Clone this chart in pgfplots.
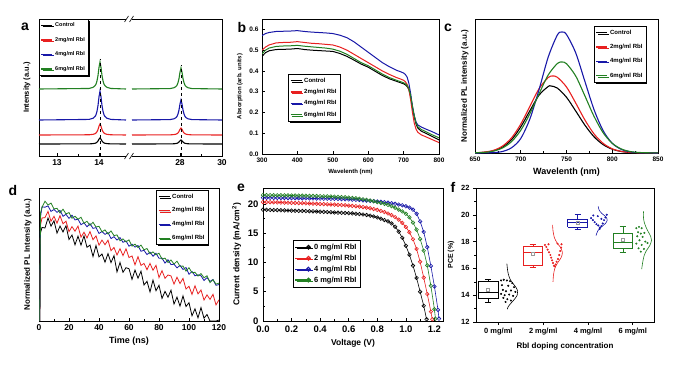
\documentclass[border=0pt]{standalone}
\usepackage{fontspec}
\setmainfont{Liberation Sans}
\usepackage{pgfplots}
\pgfplotsset{compat=1.18}
\usetikzlibrary{shadows}
\definecolor{cR}{RGB}{232,32,32}
\definecolor{cB}{RGB}{24,24,168}
\definecolor{cG}{RGB}{34,128,34}
\newcommand\fs[1]{\fontsize{#1}{#1}\selectfont\bfseries}
\pgfplotsset{
 panel/.style={scale only axis, anchor=south west, axis line style={line width=0.8pt},
   /pgf/number format/assume math mode=true, tick style={black, line width=0.6pt},
   major tick length=3pt, minor tick length=1.8pt, xtick pos=bottom, ytick pos=left,
   tick align=inside, clip mode=individual, legend cell align=left},
 shleg/.style={draw=black, line width=0.6pt, fill=white, inner sep=1.5pt,
   drop shadow={shadow xshift=1.4pt, shadow yshift=-1.4pt, fill=black, opacity=1}},
}
\begin{document}
\begin{tikzpicture}
\path[use as bounding box] (0,0) rectangle (681pt,365pt);
% ---------------- panel a
\begin{axis}[panel, at={(39pt,209pt)}, width=183pt, height=137pt,
  xmin=0, xmax=183, ymin=0, ymax=137,
  xtick={18,60,141,183}, xticklabels={13,14,28,30}, minor xtick={39,162},
  ytick=\empty, ticklabel style={font=\fs{8.5}},
  ylabel={Intensity (a.u.)}, ylabel style={font=\fs{7.5}}, ylabel shift=5pt,
  legend style={shleg, at={(0,1)}, anchor=north west, font=\fs{5.5}, row sep=5pt},
  legend image code/.code={\draw[#1, line width=1.4pt] (0pt,0pt) -- (11pt,0pt);},
  every axis plot/.append style={line width=1.1pt},
  after end axis/.code={
    \fill[white] (axis cs:87,-2) rectangle (axis cs:93,2);
    \fill[white] (axis cs:87,135) rectangle (axis cs:93,139);
    \draw[line width=0.6pt] (axis cs:85.5,-3) -- (axis cs:89.5,3);
    \draw[line width=0.6pt] (axis cs:90.5,-3) -- (axis cs:94.5,3);
    \draw[line width=0.6pt] (axis cs:85.5,134) -- (axis cs:89.5,140);
    \draw[line width=0.6pt] (axis cs:90.5,134) -- (axis cs:94.5,140);
  }]
\addplot[black] coordinates {(0,12) (50,12.12) (54,12.36) (56,12.72) (57,13.08) (58,13.8) (59,15) (60,16.8) (61,18) (62,16.8) (63,15) (64,13.8) (65,13.08) (66,12.72) (68,12.36) (72,12.12) (87,12)};
\addlegendentry{Control}
\addplot[cR] coordinates {(0,21) (50,21.22) (54,21.66) (56,22.32) (57,22.98) (58,24.3) (59,26.5) (60,29.8) (61,32) (62,29.8) (63,26.5) (64,24.3) (65,22.98) (66,22.32) (68,21.66) (72,21.22) (87,21)};
\addlegendentry{2mg/ml RbI}
\addplot[cB] coordinates {(0,36) (50,36.58) (54,37.74) (56,39.48) (57,41.22) (58,44.7) (59,50.5) (60,59.2) (61,65) (62,59.2) (63,50.5) (64,44.7) (65,41.22) (66,39.48) (68,37.74) (72,36.58) (87,36)};
\addlegendentry{4mg/ml RbI}
\addplot[cG] coordinates {(0,67) (50,67.54) (54,68.62) (56,70.24) (57,71.86) (58,75.1) (59,80.5) (60,88.6) (61,94) (62,88.6) (63,80.5) (64,75.1) (65,71.86) (66,70.24) (68,68.62) (72,67.54) (87,67)};
\addlegendentry{6mg/ml RbI}
\addplot[black, forget plot] coordinates {(93,12) (131,12.08) (135,12.24) (137,12.48) (138,12.72) (139,13.2) (140,14) (141,15.2) (142,16) (143,15.2) (144,14) (145,13.2) (146,12.72) (147,12.48) (149,12.24) (153,12.08) (183,12)};
\addplot[cR, forget plot] coordinates {(93,21) (131,21.14) (135,21.42) (137,21.84) (138,22.26) (139,23.1) (140,24.5) (141,26.6) (142,28) (143,26.6) (144,24.5) (145,23.1) (146,22.26) (147,21.84) (149,21.42) (153,21.14) (183,21)};
\addplot[cB, forget plot] coordinates {(93,36) (131,36.4) (135,37.2) (137,38.4) (138,39.6) (139,42) (140,46) (141,52) (142,56) (143,52) (144,46) (145,42) (146,39.6) (147,38.4) (149,37.2) (153,36.4) (183,36)};
\addplot[cG, forget plot] coordinates {(93,67) (131,67.42) (135,68.26) (137,69.52) (138,70.78) (139,73.3) (140,77.5) (141,83.8) (142,88) (143,83.8) (144,77.5) (145,73.3) (146,70.78) (147,69.52) (149,68.26) (153,67.42) (183,67)};
\addplot[black, dashed, line width=0.6pt, forget plot] coordinates {(61,0) (61,97)};
\addplot[black, dashed, line width=0.6pt, forget plot] coordinates {(142,0) (142,91)};
\end{axis}
% ---------------- panel b
\begin{axis}[panel, at={(262pt,211pt)}, width=177pt, height=135pt,
  xmin=300, xmax=800, ymin=0, ymax=0.65,
  xtick={300,400,500,600,700,800}, ytick={0,0.1,0.2,0.3,0.4,0.5,0.6},
  yticklabel style={/pgf/number format/.cd, fixed, fixed zerofill, precision=1},
  ticklabel style={font=\fs{6.5}},
  xlabel={Wavelenth (nm)}, ylabel={Absorption (arb. units)}, label style={font=\fs{6}},
  legend style={shleg, at={(0.147,0.593)}, anchor=north west, font=\fs{6}, row sep=1.5pt},
  legend image code/.code={\draw[#1, line width=1.4pt] (0pt,0pt) -- (11pt,0pt);},
  every axis plot/.append style={line width=1.0pt}]
\addplot[black] coordinates {(300,0.470) (310,0.488) (320,0.497) (340,0.503) (360,0.504) (380,0.505) (400,0.508) (420,0.503) (440,0.500) (460,0.498) (480,0.496) (500,0.494) (520,0.484) (540,0.470) (560,0.452) (580,0.433) (600,0.418) (620,0.398) (640,0.378) (660,0.362) (680,0.350) (690,0.344) (700,0.338) (705,0.333) (710,0.325) (715,0.310) (720,0.275) (725,0.225) (730,0.180) (735,0.145) (740,0.125) (750,0.110) (760,0.102) (780,0.085) (800,0.068)};
\addlegendentry{Control}
\addplot[cR] coordinates {(300,0.500) (310,0.515) (320,0.525) (340,0.535) (360,0.537) (380,0.538) (400,0.541) (420,0.537) (440,0.533) (460,0.531) (480,0.528) (500,0.525) (520,0.515) (540,0.500) (560,0.480) (580,0.460) (600,0.440) (620,0.420) (640,0.400) (660,0.383) (680,0.368) (690,0.362) (700,0.355) (705,0.348) (710,0.335) (715,0.310) (720,0.260) (725,0.200) (730,0.150) (735,0.120) (740,0.105) (750,0.092) (760,0.085) (780,0.070) (800,0.055)};
\addlegendentry{2mg/ml RbI}
\addplot[cB] coordinates {(300,0.570) (310,0.580) (320,0.585) (340,0.590) (360,0.591) (380,0.592) (400,0.594) (420,0.590) (440,0.587) (460,0.585) (480,0.583) (500,0.580) (520,0.572) (540,0.560) (560,0.540) (580,0.515) (600,0.490) (620,0.465) (640,0.440) (660,0.420) (680,0.403) (690,0.397) (700,0.390) (705,0.383) (710,0.370) (715,0.340) (720,0.290) (725,0.230) (730,0.185) (735,0.155) (740,0.140) (750,0.130) (760,0.122) (780,0.108) (800,0.092)};
\addlegendentry{4mg/ml RbI}
\addplot[cG] coordinates {(300,0.482) (310,0.500) (320,0.510) (340,0.518) (360,0.520) (380,0.521) (400,0.523) (420,0.519) (440,0.516) (460,0.513) (480,0.510) (500,0.505) (520,0.495) (540,0.480) (560,0.460) (580,0.440) (600,0.425) (620,0.405) (640,0.385) (660,0.368) (680,0.355) (690,0.349) (700,0.343) (705,0.338) (710,0.330) (715,0.315) (720,0.280) (725,0.230) (730,0.185) (735,0.150) (740,0.132) (750,0.118) (760,0.110) (780,0.093) (800,0.078)};
\addlegendentry{6mg/ml RbI}
\end{axis}
% ---------------- panel c
\begin{axis}[panel, at={(475pt,212pt)}, width=183pt, height=134pt,
  xmin=650, xmax=850, ymin=0, ymax=134,
  xtick={650,700,750,800,850}, minor x tick num=1, ytick=\empty,
  ticklabel style={font=\fs{6.5}},
  xlabel={Wavelenth (nm)}, xlabel style={font=\fs{9}},
  ylabel={Normalized PL intensity (a.u.)}, ylabel style={font=\fs{8}}, ylabel shift=3pt,
  legend style={shleg, at={(0.65,0.948)}, anchor=north west, font=\fs{6}, row sep=4.5pt},
  legend image code/.code={\draw[#1, line width=1.4pt] (0pt,0pt) -- (11pt,0pt);},
  every axis plot/.append style={line width=1.1pt, smooth}]
\addplot[black] coordinates {(650,0.2) (660,0.7) (670,2.1) (680,5.9) (690,13.4) (700,26.1) (710,42.3) (720,57.9) (730,66.5) (733,67) (740,64.9) (750,55.7) (760,42.1) (770,28) (780,16.3) (790,8.4) (800,3.8) (810,1.5) (820,0.5) (830,0.2) (840,0.1) (850,0)};
\addlegendentry{Control}
\addplot[cR] coordinates {(650,0.2) (660,0.9) (670,2.6) (680,6.9) (690,15.2) (700,28.9) (710,46.7) (720,64.3) (730,75.5) (735,77) (740,75.7) (750,66) (760,50.1) (770,33.2) (780,19.2) (790,9.7) (800,4.2) (810,1.6) (820,0.6) (830,0.2) (840,0.1) (850,0)};
\addlegendentry{2mg/ml RbI}
\addplot[cB] coordinates {(650,0) (660,0.1) (670,0.4) (680,1.5) (690,5.3) (700,14.5) (710,34.1) (720,63.4) (730,95.9) (740,118) (745,121) (750,118.5) (760,100.3) (770,71.9) (780,43.6) (790,22.4) (800,9.7) (810,3.6) (820,1.1) (830,0.3) (840,0.1) (850,0)};
\addlegendentry{4mg/ml RbI}
\addplot[cG] coordinates {(650,0.2) (660,0.6) (670,1.9) (680,5.0) (690,11.4) (700,22.7) (710,39.3) (720,59.2) (730,78) (740,89.5) (745,91) (750,89.3) (760,77.1) (770,57.3) (780,36.8) (790,20.3) (800,9.7) (810,4.0) (820,1.4) (830,0.5) (840,0.2) (850,0.1)};
\addlegendentry{6mg/ml RbI}
\end{axis}
% ---------------- panel d
\begin{axis}[panel, at={(39pt,44pt)}, width=180pt, height=133pt,
  xmin=0, xmax=120, ymin=0, ymax=133,
  xtick={0,20,40,60,80,100,120}, minor x tick num=1, ytick=\empty,
  ticklabel style={font=\fs{8.5}},
  xlabel={Time (ns)}, xlabel style={font=\fs{9}},
  ylabel={Normalized PL Intensity (a.u.)}, ylabel style={font=\fs{8}}, ylabel shift=4pt,
  legend style={shleg, at={(0.65,0.985)}, anchor=north west, font=\fs{6}, row sep=4pt},
  legend image code/.code={\draw[#1, line width=1.4pt] (0pt,0pt) -- (11pt,0pt);},
  every axis plot/.append style={line width=0.8pt}]
\addplot[black] coordinates {(0.5,0) (1,88) (2,93.6) (4,93.0) (6,103) (8,94.8) (10,100.2) (12,87.9) (14,94.9) (16,89.1) (18,95.3) (20,81.5) (22,86.0) (24,76.2) (26,84.8) (28,75.8) (30,85.2) (32,73.7) (34,75.9) (36,64.5) (38,75.5) (40,64.1) (42,67.0) (44,58.8) (46,67.4) (48,58.4) (50,65.4) (52,49.1) (54,58.5) (56,48.7) (58,53.3) (60,52.3) (62,41.6) (64,51.0) (66,42.8) (68,49.8) (70,36.0) (72,39.7) (74,29.1) (76,40.9) (78,30.3) (80,35.7) (82,22.6) (84,29.6) (86,23.8) (88,30.8) (90,17.0) (92,23.9) (94,14.9) (96,25.1) (98,14.5) (100,18.3) (102,5.2) (104,12.2) (106,3.2) (108,13.4) (110,2.8) (112,6.5) (114,0) (116,0) (118,0) (120,0.9)};
\addlegendentry{Control}
\addplot[cR] coordinates {(0.5,0) (1,96) (2,103) (4,103.4) (6,109.6) (8,99.7) (10,104.7) (12,97.8) (14,105.3) (16,97.2) (18,99.8) (20,89.3) (22,94.4) (24,89.8) (26,94.9) (28,83.8) (30,88.8) (32,83.1) (34,89.4) (36,81.3) (38,85.1) (40,75.8) (42,80.9) (44,76.3) (46,80.8) (48,70.3) (50,73.5) (52,66.0) (54,72.3) (56,65.4) (58,72.2) (60,63.5) (62,65.0) (64,56.2) (66,64.3) (68,55.6) (70,57.6) (72,51.3) (74,57.6) (76,50.7) (78,55.7) (80,43.4) (82,50.3) (84,42.7) (86,46.0) (88,45.1) (90,36.9) (92,43.8) (94,37.5) (96,42.6) (98,32.0) (100,34.7) (102,26.6) (104,35.2) (106,27.1) (108,31.0) (110,21.0) (112,26.1) (114,21.6) (116,26.7) (118,16.1) (120,21.2)};
\addlegendentry{2mg/ml RbI}
\addplot[cB] coordinates {(0.5,0) (1,104) (2,114.1) (4,113.8) (6,115.1) (8,109.6) (10,111.5) (12,108.7) (14,110.6) (16,104.7) (18,106.7) (20,102.6) (22,105.8) (24,101.1) (26,101.8) (28,96.3) (30,98.2) (32,94.2) (34,97.3) (36,92.6) (38,93.4) (40,87.5) (42,89.5) (44,86.6) (46,88.5) (48,82.4) (50,84.3) (52,80.9) (54,83.4) (56,78.7) (58,80.1) (60,74.8) (62,76.8) (64,73.9) (66,75.5) (68,69.7) (70,70.7) (72,66.4) (74,68.9) (76,64.8) (78,67.7) (80,62.7) (82,62.9) (84,57.9) (86,61.3) (88,56.4) (90,56.8) (92,53.1) (94,55.6) (96,51.5) (98,53.5) (100,46.7) (102,49.6) (104,45.2) (106,46.2) (108,45.2) (110,40.5) (112,43.4) (114,39.6) (116,41.5) (118,35.7) (120,36.4)};
\addlegendentry{4mg/ml RbI}
\addplot[cG] coordinates {(0.5,0) (1,108) (2,113.6) (4,119.8) (6,116.0) (8,117.9) (10,112.0) (12,112.7) (14,108.0) (16,111.8) (18,107.1) (20,108.4) (22,102.8) (24,104.7) (26,101.8) (28,103.7) (30,97.8) (32,99.7) (34,95.6) (36,98.7) (38,94.0) (40,94.7) (42,89.2) (44,91.1) (46,87.0) (48,90.1) (50,85.4) (52,86.1) (54,80.2) (56,82.1) (58,79.2) (60,81.1) (62,74.9) (64,76.8) (66,73.4) (68,75.9) (70,71.2) (72,72.5) (74,67.2) (76,69.1) (78,66.2) (80,67.8) (82,61.9) (84,62.9) (86,58.5) (88,61.0) (90,56.9) (92,59.8) (94,54.8) (96,54.9) (98,49.9) (100,53.3) (102,48.3) (104,48.7) (106,44.9) (108,47.4) (110,43.3) (112,45.2) (114,38.4) (116,41.3) (118,36.9) (120,37.9)};
\addlegendentry{6mg/ml RbI}
\end{axis}
% ---------------- panel e
\begin{axis}[panel, at={(263pt,44pt)}, width=180pt, height=133pt,
  xmin=0, xmax=1.26, ymin=0, ymax=22.7,
  xtick={0,0.2,0.4,0.6,0.8,1.0,1.2}, ytick={0,5,10,15,20}, minor tick num=1,
  ticklabel style={font=\fs{9.5}},
  xticklabel style={yshift=-1pt, /pgf/number format/.cd, fixed, fixed zerofill, precision=1},
  yticklabel style={xshift=-1pt},
  xlabel={Voltage (V)}, ylabel={Current density (mA/cm\textsuperscript{2})}, label style={font=\fs{8.5}},
  legend style={shleg, at={(0.167,0.609)}, anchor=north west, font=\fs{7.5}, row sep=0pt},
  legend image code/.code={\draw[mark repeat=2, mark phase=2, #1, line width=1.2pt] plot coordinates {(0pt,0pt) (13pt,0pt) (16pt,0pt)};},
  every axis plot/.append style={line width=0.6pt, mark=o, mark size=1.8pt}]
\addplot[black] coordinates {(0,19.0) (0.025,18.98) (0.05,18.96) (0.075,18.94) (0.1,18.92) (0.125,18.90) (0.15,18.88) (0.175,18.86) (0.2,18.84) (0.225,18.82) (0.25,18.80) (0.275,18.78) (0.3,18.76) (0.325,18.74) (0.35,18.72) (0.375,18.69) (0.4,18.66) (0.425,18.63) (0.45,18.60) (0.475,18.56) (0.5,18.52) (0.525,18.49) (0.55,18.46) (0.575,18.43) (0.6,18.4) (0.625,18.36) (0.65,18.31) (0.675,18.25) (0.7,18.18) (0.725,18.09) (0.75,17.98) (0.775,17.84) (0.8,17.67) (0.825,17.47) (0.85,17.23) (0.875,17.0) (0.9,16.65) (0.925,16.1) (0.95,15.25) (0.975,14.2) (1.0,12.85) (1.025,11.3) (1.05,9.45) (1.075,7.35) (1.1,5.0) (1.125,2.6) (1.145,0.3)};
\addlegendentry{0 mg/ml RbI}
\addplot[cR] coordinates {(0,20.3) (0.025,20.29) (0.05,20.28) (0.075,20.26) (0.1,20.24) (0.125,20.22) (0.15,20.20) (0.175,20.18) (0.2,20.16) (0.225,20.14) (0.25,20.12) (0.275,20.10) (0.3,20.08) (0.325,20.06) (0.35,20.04) (0.375,20.01) (0.4,19.98) (0.425,19.95) (0.45,19.92) (0.475,19.89) (0.5,19.86) (0.525,19.83) (0.55,19.79) (0.575,19.75) (0.6,19.7) (0.625,19.65) (0.65,19.59) (0.675,19.52) (0.7,19.44) (0.725,19.35) (0.75,19.24) (0.775,19.11) (0.8,18.96) (0.825,18.79) (0.85,18.59) (0.875,18.35) (0.9,18.07) (0.925,17.73) (0.95,17.3) (0.975,16.75) (1.0,16.05) (1.025,15.15) (1.05,13.95) (1.075,12.3) (1.1,10.1) (1.125,7.4) (1.15,4.6) (1.175,1.6) (1.185,0.3)};
\addlegendentry{2 mg/ml RbI}
\addplot[cB] coordinates {(0,21.05) (0.025,21.04) (0.05,21.03) (0.075,21.02) (0.1,21.01) (0.125,21.0) (0.15,20.99) (0.175,20.98) (0.2,20.97) (0.225,20.96) (0.25,20.95) (0.275,20.94) (0.3,20.93) (0.325,20.92) (0.35,20.91) (0.375,20.90) (0.4,20.89) (0.425,20.88) (0.45,20.87) (0.475,20.86) (0.5,20.85) (0.525,20.83) (0.55,20.8) (0.575,20.78) (0.6,20.75) (0.625,20.72) (0.65,20.69) (0.675,20.65) (0.7,20.6) (0.725,20.55) (0.75,20.5) (0.775,20.45) (0.8,20.4) (0.825,20.34) (0.85,20.28) (0.875,20.2) (0.9,20.1) (0.925,20.0) (0.95,19.88) (0.975,19.75) (1.0,19.58) (1.025,19.35) (1.05,19.0) (1.075,18.3) (1.1,17.0) (1.125,15.2) (1.15,12.6) (1.175,9.4) (1.2,5.9) (1.225,1.9) (1.232,0.4)};
\addlegendentry{4 mg/ml RbI}
\addplot[cG] coordinates {(0,21.5) (0.025,21.49) (0.05,21.48) (0.075,21.47) (0.1,21.46) (0.125,21.45) (0.15,21.44) (0.175,21.43) (0.2,21.42) (0.225,21.41) (0.25,21.40) (0.275,21.39) (0.3,21.38) (0.325,21.36) (0.35,21.35) (0.375,21.33) (0.4,21.31) (0.425,21.29) (0.45,21.27) (0.475,21.25) (0.5,21.22) (0.525,21.19) (0.55,21.15) (0.575,21.11) (0.6,21.06) (0.625,21.0) (0.65,20.94) (0.675,20.86) (0.7,20.78) (0.725,20.68) (0.75,20.57) (0.775,20.44) (0.8,20.29) (0.825,20.14) (0.85,19.99) (0.875,19.82) (0.9,19.6) (0.925,19.33) (0.95,19.02) (0.975,18.7) (1.0,18.3) (1.025,17.7) (1.05,16.8) (1.075,15.6) (1.1,14.0) (1.125,12.0) (1.15,9.5) (1.175,6.0) (1.2,2.0) (1.207,0.4)};
\addlegendentry{6 mg/ml RbI}
\end{axis}
% ---------------- panel f
\begin{axis}[panel, at={(476pt,43pt)}, width=178pt, height=134pt,
  xmin=0.5, xmax=4.475, ymin=12, ymax=22,
  ytick={12,14,16,18,20,22}, minor y tick num=1,
  xtick={1,2,3,4}, xticklabels={0 mg/ml,2 mg/ml,4 mg/ml,6 mg/ml},
  tick align=outside, ticklabel style={font=\fs{7.5}},
  xlabel={RbI doping concentration}, xlabel style={font=\fs{8}},
  ylabel={PCE (\%)}, ylabel style={font=\fs{7}},
  unbounded coords=jump]
\addplot[black, line width=0.7pt] coordinates {(0.55,13.80) (0.99,13.80) (0.99,15.04) (0.55,15.04) (0.55,13.80) (nan,nan) (0.55,14.23) (0.99,14.23) (nan,nan) (0.77,15.04) (0.77,15.22) (nan,nan) (0.70,15.22) (0.84,15.22) (nan,nan) (0.77,13.80) (0.77,13.48) (nan,nan) (0.70,13.48) (0.84,13.48)};
\addplot[cR, line width=0.7pt] coordinates {(1.55,16.26) (1.99,16.26) (1.99,17.65) (1.55,17.65) (1.55,16.26) (nan,nan) (1.55,17.22) (1.99,17.22) (nan,nan) (1.77,17.65) (1.77,17.82) (nan,nan) (1.70,17.82) (1.84,17.82) (nan,nan) (1.77,16.26) (1.77,16.11) (nan,nan) (1.70,16.11) (1.84,16.11)};
\addplot[cB, line width=0.7pt] coordinates {(2.55,19.08) (2.99,19.08) (2.99,19.65) (2.55,19.65) (2.55,19.08) (nan,nan) (2.55,19.41) (2.99,19.41) (nan,nan) (2.77,19.65) (2.77,20.07) (nan,nan) (2.70,20.07) (2.84,20.07) (nan,nan) (2.77,19.08) (2.77,18.93) (nan,nan) (2.70,18.93) (2.84,18.93)};
\addplot[cG, line width=0.7pt] coordinates {(3.56,17.50) (4.00,17.50) (4.00,18.64) (3.56,18.64) (3.56,17.50) (nan,nan) (3.56,17.94) (4.00,17.94) (nan,nan) (3.78,18.64) (3.78,19.16) (nan,nan) (3.71,19.16) (3.85,19.16) (nan,nan) (3.78,17.50) (3.78,17.17) (nan,nan) (3.71,17.17) (3.85,17.17)};
\addplot[only marks, mark=square, mark size=1.5pt, gray!80] coordinates {(0.77,14.42) (1.77,17.08) (2.77,19.41) (3.78,18.14)};
\addplot[black, smooth, line width=0.6pt] coordinates {(1.19,16.35) (1.20,16.0) (1.22,15.6) (1.26,15.2) (1.32,14.9) (1.39,14.6) (1.43,14.3) (1.42,14.0) (1.36,13.7) (1.28,13.4) (1.22,13.15) (1.20,12.95)};
\addplot[cR, smooth, line width=0.6pt] coordinates {(2.21,19.25) (2.22,18.8) (2.25,18.3) (2.31,17.9) (2.38,17.6) (2.43,17.2) (2.40,16.8) (2.32,16.4) (2.26,16.0) (2.23,15.5) (2.22,15.0)};
\addplot[cB, smooth, line width=0.6pt] coordinates {(3.23,20.62) (3.25,20.35) (3.31,20.1) (3.40,19.85) (3.43,19.6) (3.39,19.35) (3.30,19.1) (3.22,18.8) (3.18,18.45)};
\addplot[cG, smooth, line width=0.6pt] coordinates {(4.24,20.25) (4.24,19.8) (4.26,19.4) (4.32,18.9) (4.40,18.4) (4.42,18.1) (4.38,17.7) (4.30,17.3) (4.25,16.9) (4.22,16.4) (4.20,15.95)};
\addplot[only marks, mark=*, mark size=0.8pt, black] coordinates {(1.06,15.1) (1.12,15.15) (1.19,15.1) (1.26,15.05) (1.31,14.9) (1.08,14.75) (1.22,14.7) (1.35,14.6) (1.10,14.4) (1.17,14.3) (1.28,14.35) (1.38,14.25) (1.06,14.1) (1.14,14.0) (1.24,14.05) (1.33,13.95) (1.11,13.8) (1.20,13.7) (1.28,13.6) (1.16,13.5)};
\addplot[only marks, mark=*, mark size=0.8pt, cR] coordinates {(2.04,17.75) (2.07,17.6) (2.10,17.4) (2.13,17.2) (2.16,17.0) (2.18,16.8) (2.20,16.6) (2.22,16.4) (2.24,16.2) (2.28,16.3) (2.30,16.5) (2.33,16.7) (2.36,17.0) (2.38,17.3) (2.40,17.55) (2.41,17.8) (2.32,17.85) (2.12,17.8) (2.26,16.15)};
\addplot[only marks, mark=*, mark size=0.8pt, cB] coordinates {(3.07,19.75) (3.11,19.6) (3.15,19.45) (3.19,19.3) (3.23,19.2) (3.27,19.05) (3.30,19.15) (3.33,19.35) (3.36,19.6) (3.39,19.8) (3.42,20.0) (3.30,19.7) (3.22,19.9) (3.12,19.95) (3.26,18.95)};
\addplot[only marks, mark=*, mark size=0.8pt, cG] coordinates {(4.08,19.0) (4.14,19.1) (4.20,19.0) (4.12,18.7) (4.18,18.6) (4.26,18.65) (4.10,18.4) (4.22,18.35) (4.15,18.1) (4.28,18.0) (4.08,17.85) (4.20,17.75) (4.13,17.5) (4.25,17.45) (4.18,17.25) (4.33,17.9)};
\end{axis}
% ---------------- panel letters
\node[font=\fs{14}] at (25pt,338pt) {a};
\node[font=\fs{14}] at (242pt,338pt) {b};
\node[font=\fs{14}] at (448pt,337pt) {c};
\node[font=\fs{14}] at (13pt,175pt) {d};
\node[font=\fs{14}] at (241pt,177pt) {e};
\node[font=\fs{14}] at (453pt,178pt) {f};
\end{tikzpicture}
\end{document}
